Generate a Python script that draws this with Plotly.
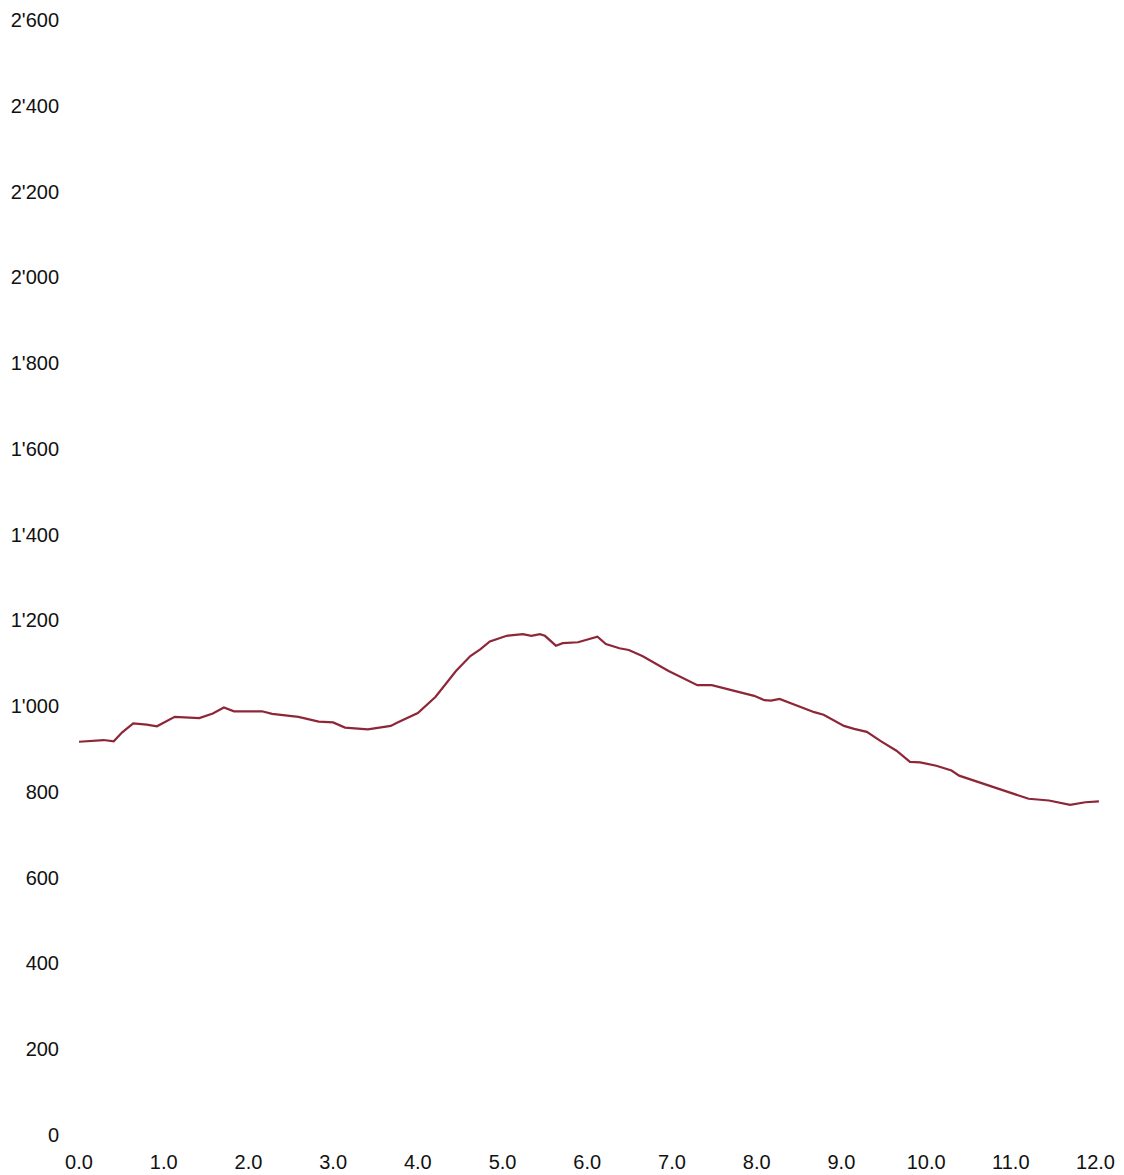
import plotly.graph_objects as go

distance_km = [0.0, 0.29, 0.41, 0.51, 0.64, 0.80, 0.92, 1.13, 1.42, 1.58, 1.71, 1.83,
               2.16, 2.28, 2.59, 2.83, 3.00, 3.14, 3.41, 3.68, 3.76, 4.00, 4.21, 4.45,
               4.62, 4.74, 4.85, 5.05, 5.24, 5.34, 5.44, 5.50, 5.63, 5.71, 5.89, 6.02,
               6.12, 6.22, 6.38, 6.49, 6.65, 6.96, 7.16, 7.30, 7.47, 7.66, 7.97, 8.09,
               8.17, 8.27, 8.44, 8.68, 8.79, 9.03, 9.15, 9.30, 9.46, 9.65, 9.81, 9.93,
               10.12, 10.30, 10.39, 10.59, 10.98, 11.21, 11.45, 11.56, 11.70, 11.88, 12.04]
elevation_m = [917, 921, 918, 939, 960, 957, 953, 975, 972, 983, 997, 988,
               988, 982, 975, 964, 962, 950, 946, 954, 962, 984, 1022, 1082,
               1117, 1133, 1151, 1164, 1168, 1164, 1168, 1164, 1141, 1147, 1149, 1156,
               1162, 1145, 1135, 1131, 1117, 1082, 1063, 1049, 1049, 1040, 1024, 1014,
               1013, 1017, 1004, 986, 980, 954, 947, 940, 919, 896, 870, 869,
               861, 850, 838, 825, 799, 784, 780, 776, 770, 776, 778]

y_tick_values = [0, 200, 400, 600, 800, 1000, 1200, 1400, 1600, 1800, 2000, 2200, 2400, 2600]
y_tick_labels = ["0", "200", "400", "600", "800", "1'000", "1'200", "1'400", "1'600",
                 "1'800", "2'000", "2'200", "2'400", "2'600"]
x_tick_values = [0, 1, 2, 3, 4, 5, 6, 7, 8, 9, 10, 11, 12]
x_tick_labels = ["0.0", "1.0", "2.0", "3.0", "4.0", "5.0", "6.0", "7.0", "8.0",
                 "9.0", "10.0", "11.0", "12.0"]

fig = go.Figure()
fig.add_trace(go.Scatter(
    x=distance_km, y=elevation_m, mode="lines",
    line=dict(color="#8e2638", width=2.2),
    hoverinfo="skip", showlegend=False,
))

fig.update_layout(
    width=1108, height=1167,
    margin=dict(l=71, r=12, t=12, b=40),
    paper_bgcolor="white", plot_bgcolor="white",
    font=dict(family="Liberation Sans, Arial, sans-serif", size=20, color="#111111"),
    showlegend=False,
)
fig.update_xaxes(
    range=[0, 12.1], tickvals=x_tick_values, ticktext=x_tick_labels,
    showgrid=False, zeroline=False, showline=False, ticks="",
    ticklabelstandoff=13, automargin=False,
)
fig.update_yaxes(
    range=[0, 2600], tickvals=y_tick_values, ticktext=y_tick_labels,
    showgrid=False, zeroline=False, showline=False, ticks="",
    ticklabelstandoff=19, automargin=False,
)

fig.write_html("out.html")
